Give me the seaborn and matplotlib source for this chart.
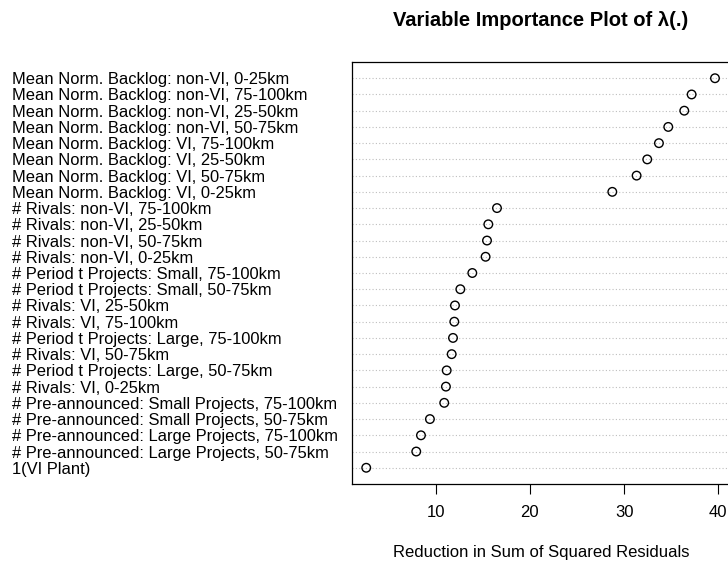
import matplotlib
matplotlib.use('Agg')
import matplotlib.pyplot as plt
import seaborn as sb
import pandas as pd

labels = [
    'Mean Norm. Backlog: non-VI, 0-25km',
    'Mean Norm. Backlog: non-VI, 75-100km',
    'Mean Norm. Backlog: non-VI, 25-50km',
    'Mean Norm. Backlog: non-VI, 50-75km',
    'Mean Norm. Backlog: VI, 75-100km',
    'Mean Norm. Backlog: VI, 25-50km',
    'Mean Norm. Backlog: VI, 50-75km',
    'Mean Norm. Backlog: VI, 0-25km',
    '# Rivals: non-VI, 75-100km',
    '# Rivals: non-VI, 25-50km',
    '# Rivals: non-VI, 50-75km',
    '# Rivals: non-VI, 0-25km',
    '# Period t Projects: Small, 75-100km',
    '# Period t Projects: Small, 50-75km',
    '# Rivals: VI, 25-50km',
    '# Rivals: VI, 75-100km',
    '# Period t Projects: Large, 75-100km',
    '# Rivals: VI, 50-75km',
    '# Period t Projects: Large, 50-75km',
    '# Rivals: VI, 0-25km',
    '# Pre-announced: Small Projects, 75-100km',
    '# Pre-announced: Small Projects, 50-75km',
    '# Pre-announced: Large Projects, 75-100km',
    '# Pre-announced: Large Projects, 50-75km',
    '1(VI Plant)',
]
importance = [39.65, 37.17, 36.39, 34.69, 33.70, 32.46, 31.33, 28.75,
              16.51, 15.59, 15.45, 15.30, 13.89, 12.62, 12.05, 11.98,
              11.84, 11.70, 11.17, 11.09, 10.91, 9.39, 8.44, 7.94, 2.63]
x_ticks = [10, 20, 30, 40]

n = len(labels)
df = pd.DataFrame({'label': labels, 'importance': importance,
                   'pos': list(range(n, 0, -1))})

sb.set_style('white')
plt.rcParams['font.family'] = ['Liberation Sans', 'DejaVu Sans']
plt.rcParams['text.color'] = 'black'
plt.rcParams['axes.labelcolor'] = 'black'
plt.rcParams['xtick.color'] = 'black'
plt.rcParams['ytick.color'] = 'black'

fig = plt.figure(figsize=(7.28, 5.62), dpi=100)
ax = fig.add_axes([352 / 728, 78 / 562, 379 / 728, 422 / 562])

# dotted guide line per variable, like R's dotchart
for p in df['pos']:
    ax.axhline(p, color='#bebebe', linestyle=(0, (1, 2)), linewidth=0.8, zorder=0)

sb.scatterplot(data=df, x='importance', y='pos', ax=ax, s=38,
               facecolor='none', edgecolor='black', linewidth=1.0,
               zorder=3, legend=False)

ax.set_xlim(1.12, 41.35)
ax.set_ylim(0, n + 1)
ax.set_xticks(x_ticks)
ax.set_xticklabels([str(t) for t in x_ticks], fontsize=12, color='black')
ax.tick_params(axis='x', direction='out', length=7, width=0.8, pad=8,
               bottom=True, colors='black')
ax.set_yticks(df['pos'])
ax.set_yticklabels(df['label'], fontsize=11.9, ha='left', color='black')
ax.tick_params(axis='y', length=0, pad=340 * 0.72)

for side in ['left', 'top', 'bottom', 'right']:
    ax.spines[side].set_color('black')
    ax.spines[side].set_linewidth(0.9)

ax.set_xlabel('Reduction in Sum of Squared Residuals', fontsize=12,
              va='center', color='black')
ax.xaxis.set_label_coords(0.5, (484 - 553) / 422)
ax.set_ylabel('')
fig.text(541 / 728, 1 - 20 / 562, 'Variable Importance Plot of \u03bb(.)',
         ha='center', va='center', fontsize=14.5, fontweight='bold',
         color='black')

fig.savefig('out.png', dpi=100)
